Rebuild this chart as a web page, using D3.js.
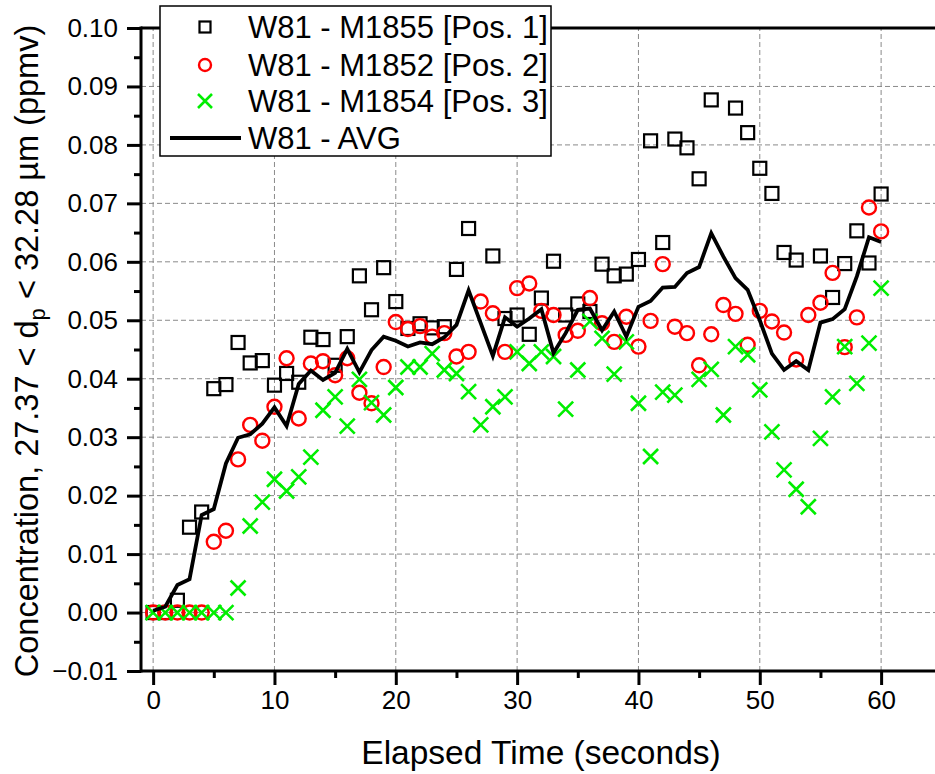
<!DOCTYPE html>
<html>
<head>
<meta charset="utf-8">
<script src="https://cdn.jsdelivr.net/npm/d3@7"></script>
<style>
  html, body { margin: 0; padding: 0; background: #fff; overflow: hidden; }
  svg { display: block; font-family: "Liberation Sans", Arial, sans-serif; }
</style>
</head>
<body>
<svg id="chart" width="935" height="774"></svg>
<script>
// elapsed time, seconds
const seconds = [0,1,2,3,4,5,6,7,8,9,10,11,12,13,14,15,16,17,18,19,20,
  21,22,23,24,25,26,27,28,29,30,31,32,33,34,35,36,37,38,39,40,
  41,42,43,44,45,46,47,48,49,50,51,52,53,54,55,56,57,58,59,60];

// W81 - M1855 [Pos. 1]
const m1855 = [0,0,0.0021,0.0146,0.0172,0.0383,0.039,0.0462,0.0427,0.0431,0.0389,
  0.0409,0.0394,0.0471,0.0467,0.0423,0.0472,0.0576,0.0518,0.059,0.0532,
  0.0486,0.0494,0.0487,0.0489,0.0587,0.0657,null,0.061,0.0503,0.0509,
  0.0476,0.0538,0.0601,0.0509,0.0528,0.0515,0.0596,0.0576,0.0579,0.0604,
  0.0807,0.0633,0.081,0.0795,0.0742,0.0877,null,0.0863,0.0821,0.076,
  0.0717,0.0616,0.0603,null,0.061,0.0539,0.0597,0.0653,0.0598,0.0716];

// W81 - M1852 [Pos. 2]
const m1852 = [0,0,0,0,0,0.0121,0.014,0.0262,0.0321,0.0294,0.0352,
  0.0435,0.0332,0.0426,0.043,0.0406,0.0435,0.0376,0.0358,0.042,0.0497,
  0.0485,0.049,0.0472,0.0478,0.0438,0.0446,0.0532,0.0512,0.0446,0.0555,
  0.0563,0.0516,0.0509,0.0475,0.0482,0.0538,0.0495,0.0463,0.0506,0.0455,
  0.0499,0.0596,0.0489,0.0478,0.0423,0.0476,0.0526,0.0511,0.0458,0.0516,
  0.0498,0.0479,0.0433,0.0509,0.053,0.0581,0.0454,0.0505,0.0693,0.0652];

// W81 - M1854 [Pos. 3]
const m1854 = [0,0,0,0,0,0,0,0.0042,0.0148,0.0189,0.0228,
  0.0208,0.0232,0.0266,0.0346,0.0369,0.0319,0.0399,0.0359,0.0338,0.0385,
  0.042,0.042,0.0443,0.0415,0.0409,0.0378,0.0321,0.0352,0.0369,0.0446,
  0.0426,0.0446,0.0438,0.0348,0.0415,0.0498,0.0469,0.0408,0.0463,0.0358,
  0.0267,0.0377,0.0372,null,0.0399,0.0416,0.0338,0.0455,0.0441,0.0381,
  0.0309,0.0244,0.0211,0.0181,0.0298,0.0369,0.0455,0.0392,0.0461,0.0555];

// W81 - AVG
const avg = [0.0003,0.001,0.0047,0.0057,0.0167,0.0177,0.0255,0.0299,0.0305,0.0323,0.0351,
  0.0319,0.0391,0.0414,0.0398,0.041,0.0451,0.0411,0.0449,0.0472,0.0465,
  0.0455,0.0462,0.0459,0.0471,0.0492,0.0551,0.0495,0.0439,0.0505,0.0489,
  0.0503,0.0519,0.0444,0.0478,0.0518,0.052,0.0483,0.0515,0.0472,0.0523,
  0.0533,0.0556,0.0557,0.0581,0.0591,0.0649,0.0609,0.0572,0.0552,0.05,
  0.0443,0.0415,0.043,0.0415,0.0496,0.0502,0.0519,0.0575,0.0642,0.0634];

const xTicks = [0,10,20,30,40,50,60];
const xMinor = [5,15,25,35,45,55];
const yTicks = [-0.01,0,0.01,0.02,0.03,0.04,0.05,0.06,0.07,0.08,0.09,0.10];
const yMinor = [-0.005,0.005,0.015,0.025,0.035,0.045,0.055,0.065,0.075,0.085,0.095];

const legendLabels = ["W81 - M1855 [Pos. 1]", "W81 - M1852 [Pos. 2]", "W81 - M1854 [Pos. 3]", "W81 - AVG"];

const svg = d3.select("#chart");

// plot area runs off the right edge of the window, like the original crop
const x = d3.scaleLinear().domain([-1, 65]).range([141, 141 + 66 * 12.133]);
const y = d3.scaleLinear().domain([-0.01, 0.10]).range([671, 28]);

const fmt = d3.format(".2f");

// grid
const grid = svg.append("g");
grid.selectAll("line.gx")
  .data(xTicks)
  .join("line")
  .attr("x1", d => x(d)).attr("x2", d => x(d))
  .attr("y1", y(-0.01)).attr("y2", y(0.10))
  .attr("stroke", "#8a8a8a").attr("stroke-width", 1)
  .attr("stroke-dasharray", "5,3");
grid.selectAll("line.gy")
  .data(yTicks.filter(d => d > -0.005 && d < 0.095))
  .join("line")
  .attr("x1", x(-1)).attr("x2", 935)
  .attr("y1", d => y(d)).attr("y2", d => y(d))
  .attr("stroke", "#8a8a8a").attr("stroke-width", 1)
  .attr("stroke-dasharray", "5,3");

// axes
const xAxis = d3.axisBottom(x).tickValues(xTicks).tickSize(14).tickPadding(6).tickFormat(d3.format("d"));
const gx = svg.append("g").attr("transform", `translate(0,${y(-0.01)})`).call(xAxis);
gx.select(".domain").remove();
gx.selectAll(".tick line").attr("stroke", "#000").attr("stroke-width", 3);
gx.selectAll(".tick text").attr("font-size", 26).attr("fill", "#000")
  .attr("font-family", "Liberation Sans, Arial, sans-serif");
svg.append("g").attr("transform", `translate(0,${y(-0.01)})`)
  .call(d3.axisBottom(x).tickValues(xMinor).tickSize(7).tickFormat(""))
  .call(g => g.select(".domain").remove())
  .selectAll(".tick line").attr("stroke", "#000").attr("stroke-width", 3);

const yAxis = d3.axisLeft(y).tickValues(yTicks).tickSize(14).tickPadding(9).tickFormat(fmt);
const gy = svg.append("g").attr("transform", `translate(${x(-1)},0)`).call(yAxis);
gy.select(".domain").remove();
gy.selectAll(".tick line").attr("stroke", "#000").attr("stroke-width", 3);
gy.selectAll(".tick text").attr("font-size", 26).attr("fill", "#000")
  .attr("font-family", "Liberation Sans, Arial, sans-serif");
svg.append("g").attr("transform", `translate(${x(-1)},0)`)
  .call(d3.axisLeft(y).tickValues(yMinor).tickSize(7).tickFormat(""))
  .call(g => g.select(".domain").remove())
  .selectAll(".tick line").attr("stroke", "#000").attr("stroke-width", 3);

// frame lines: left, bottom, top
svg.append("line").attr("x1", x(-1)).attr("x2", x(-1)).attr("y1", y(0.10) - 1.5).attr("y2", y(-0.01) + 1.5)
  .attr("stroke", "#000").attr("stroke-width", 3);
svg.append("line").attr("x1", x(-1)).attr("x2", 935).attr("y1", y(-0.01)).attr("y2", y(-0.01))
  .attr("stroke", "#000").attr("stroke-width", 3);
svg.append("line").attr("x1", x(-1)).attr("x2", 935).attr("y1", y(0.10)).attr("y2", y(0.10))
  .attr("stroke", "#000").attr("stroke-width", 3);

const pts = arr => seconds.map((t, i) => ({ t, v: arr[i] })).filter(d => d.v !== null);

// markers
const squareSize = 13;
svg.append("g").selectAll("rect")
  .data(pts(m1855))
  .join("rect")
  .attr("x", d => x(d.t) - squareSize / 2)
  .attr("y", d => y(d.v) - squareSize / 2)
  .attr("width", squareSize).attr("height", squareSize)
  .attr("fill", "none").attr("stroke", "#000").attr("stroke-width", 2.2);

svg.append("g").selectAll("circle")
  .data(pts(m1852))
  .join("circle")
  .attr("cx", d => x(d.t)).attr("cy", d => y(d.v)).attr("r", 7)
  .attr("fill", "none").attr("stroke", "#ff0000").attr("stroke-width", 2.4);

const crossPath = s => `M${-s},${-s}L${s},${s}M${-s},${s}L${s},${-s}`;
svg.append("g").selectAll("path")
  .data(pts(m1854))
  .join("path")
  .attr("transform", d => `translate(${x(d.t)},${y(d.v)})`)
  .attr("d", crossPath(7.5))
  .attr("fill", "none").attr("stroke", "#00ee00").attr("stroke-width", 2.6);

// average line
const line = d3.line().x(d => x(d.t)).y(d => y(d.v));
svg.append("path")
  .datum(pts(avg))
  .attr("d", line)
  .attr("fill", "none").attr("stroke", "#000").attr("stroke-width", 3.8)
  .attr("stroke-linejoin", "miter");

// legend
const lg = svg.append("g");
lg.append("rect").attr("x", 160).attr("y", 6).attr("width", 391).attr("height", 150)
  .attr("fill", "#fff").attr("stroke", "#000").attr("stroke-width", 1.5);
const rowY = [27, 65, 101, 138];
const symX = 205;
lg.append("rect").attr("x", symX - 5.5).attr("y", rowY[0] - 5.5).attr("width", 11).attr("height", 11)
  .attr("fill", "none").attr("stroke", "#000").attr("stroke-width", 2.2);
lg.append("circle").attr("cx", symX).attr("cy", rowY[1]).attr("r", 6)
  .attr("fill", "none").attr("stroke", "#ff0000").attr("stroke-width", 2.4);
lg.append("path").attr("transform", `translate(${symX},${rowY[2]})`).attr("d", crossPath(7))
  .attr("fill", "none").attr("stroke", "#00ee00").attr("stroke-width", 2.6);
lg.append("line").attr("x1", 170).attr("x2", 241).attr("y1", rowY[3]).attr("y2", rowY[3])
  .attr("stroke", "#000").attr("stroke-width", 3.8);
lg.selectAll("text")
  .data(legendLabels)
  .join("text")
  .attr("x", 248)
  .attr("y", (d, i) => rowY[i] + 11)
  .attr("font-size", 31)
  .text(d => d);

// axis titles
svg.append("text")
  .attr("x", 541).attr("y", 764)
  .attr("text-anchor", "middle").attr("font-size", 33.5)
  .text("Elapsed Time (seconds)");

const yt = svg.append("text")
  .attr("transform", "translate(38,351) rotate(-90)")
  .attr("text-anchor", "middle").attr("font-size", 32.5);
yt.append("tspan").text("Concentration, 27.37 < d");
yt.append("tspan").attr("font-size", 22).attr("dy", 7).text("p");
yt.append("tspan").attr("dy", -7).text(" < 32.28 µm (ppmv)");
</script>
</body>
</html>
